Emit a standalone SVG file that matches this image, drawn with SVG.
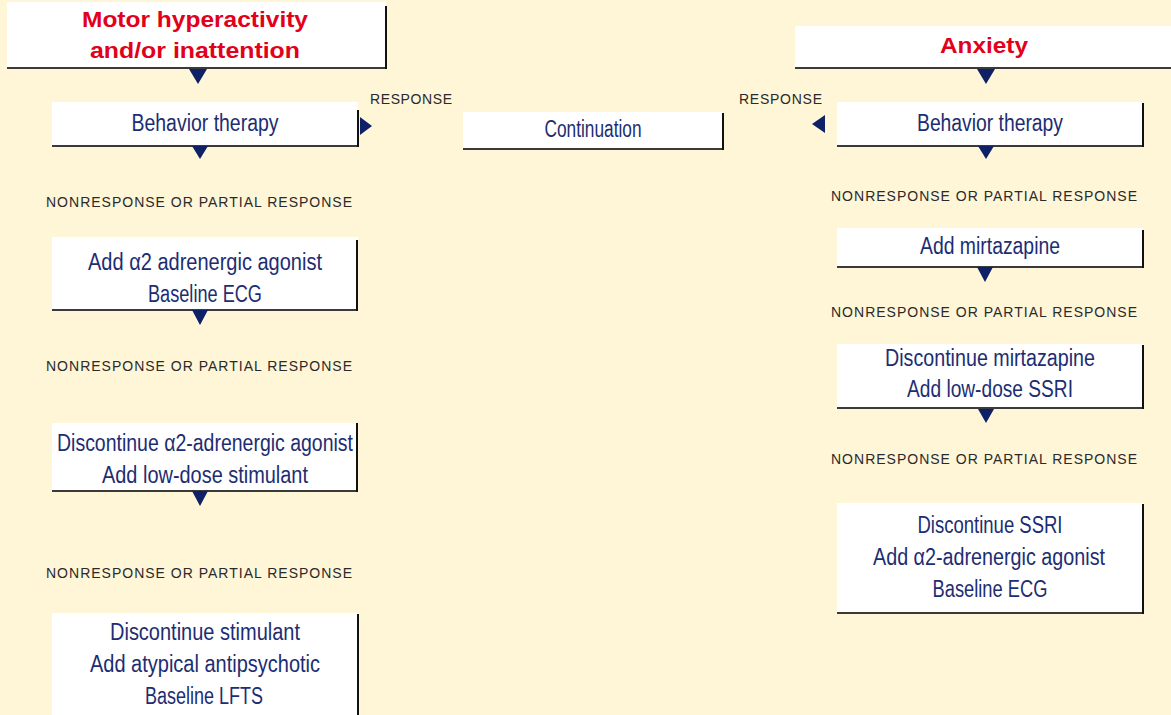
<svg xmlns="http://www.w3.org/2000/svg" width="1171" height="715" viewBox="0 0 1171 715">
<defs>
<style>
.bg{fill:#FFF5D7}
.box{fill:#FFFFFF}
.bb{stroke:#3a3a3a;stroke-width:2;fill:none}
.rb{stroke:#111;stroke-width:2;fill:none}
.t{font-family:"Liberation Sans",Arial,sans-serif;font-size:23px;fill:#1D2D72;text-anchor:middle}
.h{font-family:"Liberation Sans",Arial,sans-serif;font-size:22px;font-weight:bold;fill:#E2001A;text-anchor:middle}
.s{font-family:"Liberation Sans",Arial,sans-serif;font-size:14px;fill:#2a2a2a}
.tri{fill:#0E2066}
</style>
</defs>
<rect class="bg" x="0" y="0" width="1171" height="715"/>

<g id="node-motor">
<rect class="box" x="7" y="2" width="379" height="66"/>
<line class="bb" x1="7" y1="68" x2="386" y2="68"/>
<line class="rb" x1="386" y1="6" x2="386" y2="69"/>
<text class="h" x="195" y="27" textLength="226" lengthAdjust="spacingAndGlyphs">Motor hyperactivity</text>
<text class="h" x="195" y="58" textLength="210" lengthAdjust="spacingAndGlyphs">and/or inattention</text>
</g>

<g id="node-bt-left">
<rect class="box" x="52" y="102" width="306" height="44"/>
<line class="bb" x1="52" y1="146" x2="358" y2="146"/>
<line class="rb" x1="358" y1="110" x2="358" y2="147"/>
<text class="t" x="205" y="131" textLength="147" lengthAdjust="spacingAndGlyphs">Behavior therapy</text>
</g>

<g id="node-continuation">
<rect class="box" x="463" y="112" width="260" height="37"/>
<line class="bb" x1="463" y1="149" x2="723" y2="149"/>
<line class="rb" x1="723" y1="113" x2="723" y2="150"/>
<text class="t" x="593" y="137" textLength="97" lengthAdjust="spacingAndGlyphs">Continuation</text>
</g>

<g id="node-a2">
<rect class="box" x="52" y="237" width="306" height="73"/>
<line class="bb" x1="52" y1="310" x2="358" y2="310"/>
<line class="rb" x1="357" y1="240" x2="357" y2="311"/>
<text class="t" x="205" y="270" textLength="234" lengthAdjust="spacingAndGlyphs">Add α2 adrenergic agonist</text>
<text class="t" x="205" y="302" textLength="114" lengthAdjust="spacingAndGlyphs">Baseline ECG</text>
</g>

<g id="node-stim">
<rect class="box" x="52" y="423" width="306" height="68"/>
<line class="bb" x1="52" y1="491" x2="358" y2="491"/>
<line class="rb" x1="357" y1="423" x2="357" y2="492"/>
<text class="t" x="205" y="451" textLength="296" lengthAdjust="spacingAndGlyphs">Discontinue α2-adrenergic agonist</text>
<text class="t" x="205" y="483" textLength="206" lengthAdjust="spacingAndGlyphs">Add low-dose stimulant</text>
</g>

<g id="node-antipsych">
<rect class="box" x="52" y="613" width="306" height="102"/>
<line class="rb" x1="358" y1="614" x2="358" y2="715"/>
<text class="t" x="205" y="640" textLength="190" lengthAdjust="spacingAndGlyphs">Discontinue stimulant</text>
<text class="t" x="205" y="672" textLength="230" lengthAdjust="spacingAndGlyphs">Add atypical antipsychotic</text>
<text class="t" x="204" y="704" textLength="118" lengthAdjust="spacingAndGlyphs">Baseline LFTS</text>
</g>

<g id="node-anxiety">
<rect class="box" x="795" y="26" width="376" height="42"/>
<line class="bb" x1="795" y1="68" x2="1171" y2="68"/>
<text class="h" x="984" y="53" textLength="88" lengthAdjust="spacingAndGlyphs">Anxiety</text>
</g>

<g id="node-bt-right">
<rect class="box" x="837" y="102" width="306" height="44"/>
<line class="bb" x1="837" y1="146" x2="1143" y2="146"/>
<line class="rb" x1="1143" y1="103" x2="1143" y2="147"/>
<text class="t" x="990" y="131" textLength="146" lengthAdjust="spacingAndGlyphs">Behavior therapy</text>
</g>

<g id="node-mirt">
<rect class="box" x="837" y="228" width="306" height="39"/>
<line class="bb" x1="837" y1="267" x2="1143" y2="267"/>
<line class="rb" x1="1143" y1="230" x2="1143" y2="268"/>
<text class="t" x="990" y="254" textLength="140" lengthAdjust="spacingAndGlyphs">Add mirtazapine</text>
</g>

<g id="node-ssri">
<rect class="box" x="837" y="344" width="306" height="64"/>
<line class="bb" x1="837" y1="408" x2="1143" y2="408"/>
<line class="rb" x1="1143" y1="345" x2="1143" y2="409"/>
<text class="t" x="990" y="366" textLength="210" lengthAdjust="spacingAndGlyphs">Discontinue mirtazapine</text>
<text class="t" x="990" y="397" textLength="166" lengthAdjust="spacingAndGlyphs">Add low-dose SSRI</text>
</g>

<g id="node-a2-right">
<rect class="box" x="837" y="503" width="306" height="110"/>
<line class="bb" x1="837" y1="613" x2="1143" y2="613"/>
<line class="rb" x1="1143" y1="504" x2="1143" y2="614"/>
<text class="t" x="990" y="533" textLength="145" lengthAdjust="spacingAndGlyphs">Discontinue SSRI</text>
<text class="t" x="989" y="565" textLength="232" lengthAdjust="spacingAndGlyphs">Add α2-adrenergic agonist</text>
<text class="t" x="990" y="597" textLength="115" lengthAdjust="spacingAndGlyphs">Baseline ECG</text>
</g>

<g id="connectors">
<polygon class="tri" points="189,69 207,69 198,84"/>
<polygon class="tri" points="360,117 372,126 360,135"/>
<polygon class="tri" points="192,146 208,146 200,159"/>
<polygon class="tri" points="192,310 208,310 200,325"/>
<polygon class="tri" points="192,491 208,491 200,506"/>
<polygon class="tri" points="977,69 995,69 986,84"/>
<polygon class="tri" points="825,115 825,133 812,124"/>
<polygon class="tri" points="978,146 994,146 986,159"/>
<polygon class="tri" points="977,267 993,267 985,282"/>
<polygon class="tri" points="978,409 994,409 986,423"/>
<text class="s" x="370" y="104" textLength="82" lengthAdjust="spacing">RESPONSE</text>
<text class="s" x="739" y="104" textLength="83" lengthAdjust="spacing">RESPONSE</text>
<text class="s" x="46" y="207" textLength="306" lengthAdjust="spacing">NONRESPONSE OR PARTIAL RESPONSE</text>
<text class="s" x="46" y="371" textLength="306" lengthAdjust="spacing">NONRESPONSE OR PARTIAL RESPONSE</text>
<text class="s" x="46" y="578" textLength="306" lengthAdjust="spacing">NONRESPONSE OR PARTIAL RESPONSE</text>
<text class="s" x="831" y="201" textLength="306" lengthAdjust="spacing">NONRESPONSE OR PARTIAL RESPONSE</text>
<text class="s" x="831" y="317" textLength="306" lengthAdjust="spacing">NONRESPONSE OR PARTIAL RESPONSE</text>
<text class="s" x="831" y="464" textLength="306" lengthAdjust="spacing">NONRESPONSE OR PARTIAL RESPONSE</text>
</g>
</svg>
